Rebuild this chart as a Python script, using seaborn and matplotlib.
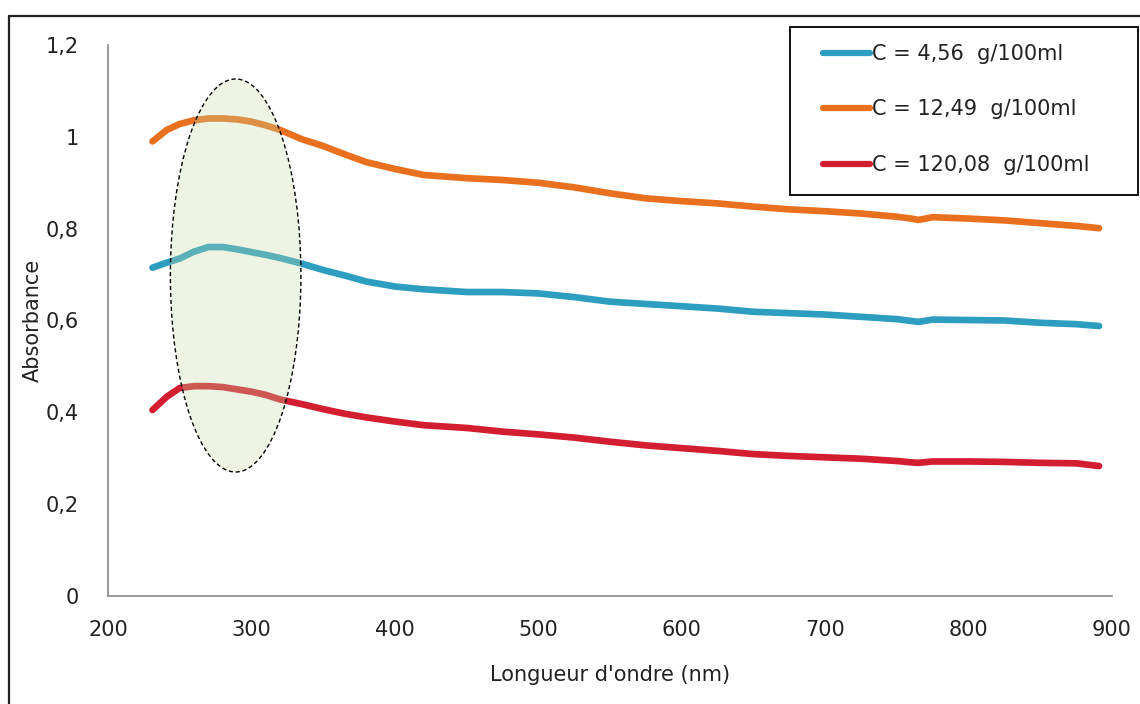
import numpy as np
import pandas as pd
import seaborn as sns
import matplotlib.pyplot as plt
from matplotlib.patches import Ellipse, Rectangle
from matplotlib.lines import Line2D
from matplotlib.ticker import FuncFormatter

# wavelength grid (nm)
wavelength = [231, 241, 250, 260, 270, 280, 290, 300, 310, 320, 335, 350, 365, 380,
              400, 420, 450, 475, 500, 525, 550, 575, 600, 625, 650, 675, 700, 725,
              750, 760, 765, 775, 800, 825, 850, 875, 891]

abs_456 = [0.715, 0.726, 0.735, 0.750, 0.760, 0.760, 0.755, 0.749, 0.743, 0.736, 0.724,
           0.710, 0.698, 0.685, 0.674, 0.668, 0.662, 0.662, 0.659, 0.651, 0.641, 0.636,
           0.631, 0.626, 0.619, 0.616, 0.613, 0.608, 0.603, 0.599, 0.597, 0.602, 0.601,
           0.600, 0.595, 0.592, 0.588]
abs_1249 = [0.990, 1.015, 1.028, 1.036, 1.040, 1.040, 1.038, 1.033, 1.025, 1.015, 0.995,
            0.980, 0.962, 0.945, 0.930, 0.917, 0.910, 0.906, 0.900, 0.890, 0.877, 0.866,
            0.860, 0.855, 0.848, 0.842, 0.838, 0.833, 0.826, 0.822, 0.819, 0.825, 0.822,
            0.818, 0.812, 0.806, 0.801]
abs_12008 = [0.405, 0.434, 0.453, 0.457, 0.457, 0.455, 0.450, 0.445, 0.438, 0.428, 0.418,
             0.407, 0.397, 0.389, 0.380, 0.372, 0.366, 0.358, 0.352, 0.345, 0.336, 0.328,
             0.322, 0.316, 0.309, 0.305, 0.302, 0.299, 0.294, 0.291, 0.290, 0.293, 0.293,
             0.292, 0.290, 0.289, 0.283]

labels = ["C = 4,56  g/100ml", "C = 12,49  g/100ml", "C = 120,08  g/100ml"]
colors = ["#2E9EC0", "#E8701E", "#D21E30"]

# highlighted region (center nm, center absorbance, width nm, height)
zone = (289, 0.698, 91, 0.856)

df = pd.concat([
    pd.DataFrame({"wl": wavelength, "A": vals, "serie": lab})
    for vals, lab in zip([abs_456, abs_1249, abs_12008], labels)
])

sns.set_style("white")
plt.rcParams["font.family"] = ["DejaVu Sans"]

W, H = 1140, 704
fig = plt.figure(figsize=(W / 100, H / 100), dpi=100)
ax = fig.add_axes([108 / W, 1 - 596 / H, (1112 - 108) / W, (596 - 45) / H])

sns.lineplot(data=df, x="wl", y="A", hue="serie", palette=colors,
             linewidth=4.8, ax=ax, legend=False, sort=False)

ell = Ellipse((zone[0], zone[1]), zone[2], zone[3], facecolor=(0.77, 0.86, 0.65, 0.3),
              edgecolor="black", linestyle=(0, (3, 2)), linewidth=1.0, zorder=5)
ax.add_patch(ell)

ax.set_xlim(200, 900)
ax.set_ylim(0, 1.2)
ax.set_xticks(range(200, 901, 100))
ax.set_yticks(np.arange(0, 1.21, 0.2))
ax.yaxis.set_major_formatter(FuncFormatter(
    lambda v, p: f"{v:.1f}".rstrip("0").rstrip(".").replace(".", ",") if v else "0"))

for s in ["top", "right"]:
    ax.spines[s].set_visible(False)
for s in ["left", "bottom"]:
    ax.spines[s].set_color("#8a8a8a")
    ax.spines[s].set_linewidth(1.2)
ax.tick_params(direction="out", length=7, width=1.2, color="#8a8a8a",
               labelsize=15, labelcolor="#222222")
ax.tick_params(axis="x", pad=10)
ax.tick_params(axis="y", pad=14)

ax.set_xlabel("Longueur d'ondre (nm)", fontsize=15, color="#222222", va="center")
ax.set_ylabel("Absorbance", fontsize=15, color="#222222", va="center")
ax.xaxis.set_label_coords(0.5, (596 - 675) / 551)
ax.yaxis.set_label_coords((33 - 108) / 1004, 0.5)

# legend box
fig.add_artist(Rectangle((790 / W, 1 - 195 / H), (1138 - 790) / W, (195 - 27) / H,
                         transform=fig.transFigure, facecolor="white",
                         edgecolor="#111111", linewidth=1.4))
handles = [Line2D([], [], color=c, linewidth=4.5) for c in colors]
leg = fig.legend(handles, labels, loc="upper left", bbox_to_anchor=(823 / W, 1 - 44 / H),
                 frameon=False, fontsize=15, handlelength=2.25, handletextpad=0.1,
                 labelspacing=1.7, borderpad=0, borderaxespad=0)
for t in leg.get_texts():
    t.set_color("#222222")

# outer frame of the picture (left and top edges visible)
fig.add_artist(Line2D([9 / W, 9 / W], [0, 1 - 16 / H], transform=fig.transFigure,
                      color="#222222", linewidth=1.6))
fig.add_artist(Line2D([9 / W, 1], [1 - 16 / H, 1 - 16 / H], transform=fig.transFigure,
                      color="#222222", linewidth=1.6))

fig.savefig("out.png", dpi=100)
